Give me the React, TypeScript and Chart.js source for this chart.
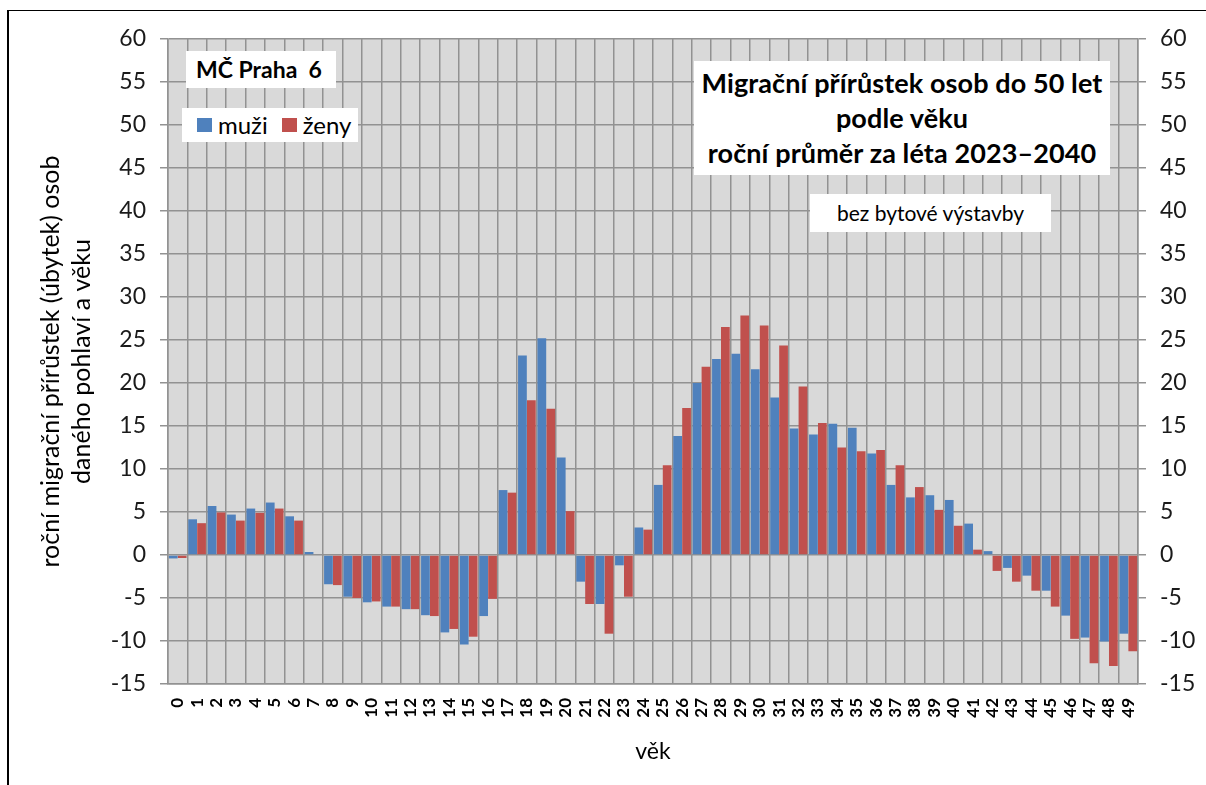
import React, { useEffect, useRef } from "react";
import { Chart, registerables } from "chart.js";

Chart.register(...registerables);

const ages: string[] = Array.from({ length: 50 }, (_, i) => String(i));

const muzi: number[] = [
  -0.4, 4.15, 5.7, 4.7, 5.4, 6.1, 4.5, 0.35, -3.4, -4.85,
  -5.5, -6.0, -6.3, -7.0, -9.0, -10.4, -7.1, 7.55, 23.2, 25.2,
  11.35, -3.1, -5.7, -1.2, 3.2, 8.15, 13.85, 20.0, 22.8, 23.4,
  21.6, 18.3, 14.7, 14.0, 15.25, 14.8, 11.8, 8.15, 6.7, 6.95,
  6.4, 3.65, 0.45, -1.5, -2.4, -4.15, -7.05, -9.6, -10.05, -9.15,
];

const zeny: number[] = [
  -0.35, 3.7, 4.95, 4.0, 4.9, 5.4, 4.0, 0, -3.5, -5.0,
  -5.4, -6.0, -6.3, -7.1, -8.6, -9.5, -5.1, 7.25, 18.0, 17.0,
  5.1, -5.7, -9.15, -4.85, 2.95, 10.45, 17.1, 21.9, 26.5, 27.85,
  26.7, 24.35, 19.6, 15.35, 12.5, 12.05, 12.2, 10.45, 7.9, 5.25,
  3.4, 0.62, -1.85, -3.1, -4.15, -6.0, -9.75, -12.6, -12.9, -11.2,
];

const yMin = -15;
const yMax = 60;
const yStep = 5;

const seriesNames = ["muži", "ženy"];
const seriesColors = ["#4f81bd", "#c0504d"];

const FONT = "Lato, Carlito, 'Open Sans', sans-serif";
const GRID = "#929292";

const bgPlugin = {
  id: "plotBg",
  beforeDraw(chart: any) {
    const { ctx, chartArea } = chart;
    ctx.save();
    ctx.fillStyle = "#d9d9d9";
    ctx.fillRect(chartArea.left, chartArea.top, chartArea.right - chartArea.left, chartArea.bottom - chartArea.top);
    ctx.restore();
  },
};

export default function App() {
  const ref = useRef<HTMLCanvasElement | null>(null);

  useEffect(() => {
    document.body.style.margin = "0";
    if (!ref.current) return;
    const chart = new Chart(ref.current, {
      type: "bar",
      data: {
        labels: ages,
        datasets: [
          { label: seriesNames[0], data: muzi, backgroundColor: seriesColors[0], borderWidth: 0 },
          { label: seriesNames[1], data: zeny, backgroundColor: seriesColors[1], borderWidth: 0 },
        ],
      },
      options: {
        animation: false,
        responsive: false,
        devicePixelRatio: 1,
        layout: { padding: { top: 39, left: 0, right: 0, bottom: 0 } },
        datasets: { bar: { categoryPercentage: 0.92, barPercentage: 0.98 } },
        plugins: {
          legend: { display: false },
          title: { display: false },
          tooltip: { enabled: false },
        },
        scales: {
          x: {
            offset: true,
            grid: { color: GRID, lineWidth: 1.5, offset: true, drawTicks: false },
            border: { color: GRID, width: 1.5 },
            ticks: {
              autoSkip: false,
              minRotation: 90,
              maxRotation: 90,
              padding: 14,
              color: "#000",
              font: { family: FONT, size: 17, weight: "bold" },
            },
            title: {
              display: true,
              text: "věk",
              color: "#000",
              font: { family: FONT, size: 23 },
              padding: { top: 0, bottom: 20 },
            },
            afterFit(scale: any) {
              scale.height = 101;
            },
          },
          y: {
            position: "left",
            min: yMin,
            max: yMax,
            grid: { color: GRID, lineWidth: 1.5, tickLength: 8 },
            border: { color: GRID, width: 1.5 },
            ticks: {
              stepSize: yStep,
              padding: 14,
              color: "#1a1a1a",
              font: { family: FONT, size: 23 },
            },
            title: {
              display: true,
              text: ["roční migrační přírůstek (úbytek) osob", "daného pohlaví a věku"],
              color: "#000",
              font: { family: FONT, size: 25, lineHeight: 1.24 },
              padding: { top: 35, bottom: 0 },
            },
            afterFit(scale: any) {
              scale.width = 168;
            },
          },
          y2: {
            position: "right",
            min: yMin,
            max: yMax,
            grid: { color: GRID, lineWidth: 1.5, tickLength: 8, drawOnChartArea: false },
            border: { color: GRID, width: 1.5 },
            ticks: {
              stepSize: yStep,
              padding: 14,
              color: "#1a1a1a",
              font: { family: FONT, size: 23 },
            },
            afterFit(scale: any) {
              scale.width = 68;
            },
          },
        },
      },
      plugins: [bgPlugin],
    } as any);
    return () => chart.destroy();
  }, []);

  const box: React.CSSProperties = {
    position: "absolute",
    background: "#fff",
    fontFamily: FONT,
    color: "#000",
    boxSizing: "border-box",
  };

  return (
    <div style={{ position: "absolute", left: 0, top: 0, width: 1206, height: 785, background: "#fff", overflow: "hidden" }}>
      <canvas ref={ref} width={1206} height={785} style={{ position: "absolute", left: 0, top: 0, width: 1206, height: 785 }} />
      <div style={{ position: "absolute", left: 7, top: 10, width: 1210, height: 800, borderLeft: "2px solid #000", borderTop: "1.5px solid #000", pointerEvents: "none" }} />
      <div style={{ ...box, left: 186, top: 51, width: 150, height: 37, fontWeight: "bold", fontSize: 23, lineHeight: "37px", paddingLeft: 10, whiteSpace: "pre" }}>
        {"MČ Praha  6"}
      </div>
      <div style={{ ...box, left: 182, top: 108, width: 176, height: 34, fontSize: 24, lineHeight: "34px", display: "flex", alignItems: "center", paddingLeft: 15 }}>
        <span style={{ display: "inline-block", width: 15, height: 14, background: seriesColors[0], marginRight: 6 }} />
        <span>{seriesNames[0]}</span>
        <span style={{ display: "inline-block", width: 15, height: 14, background: seriesColors[1], marginLeft: 14, marginRight: 6 }} />
        <span>{seriesNames[1]}</span>
      </div>
      <div style={{ ...box, left: 694, top: 61, width: 416, height: 114, fontWeight: "bold", fontSize: 27, lineHeight: "35px", textAlign: "center", paddingTop: 4, whiteSpace: "nowrap", letterSpacing: "0.1px" }}>
        <div>Migrační přírůstek osob do 50 let</div>
        <div>podle věku</div>
        <div>roční průměr za léta 2023–2040</div>
      </div>
      <div style={{ ...box, left: 810, top: 194, width: 241, height: 38, fontSize: 21, lineHeight: "38px", textAlign: "center" }}>
        bez bytové výstavby
      </div>
    </div>
  );
}
